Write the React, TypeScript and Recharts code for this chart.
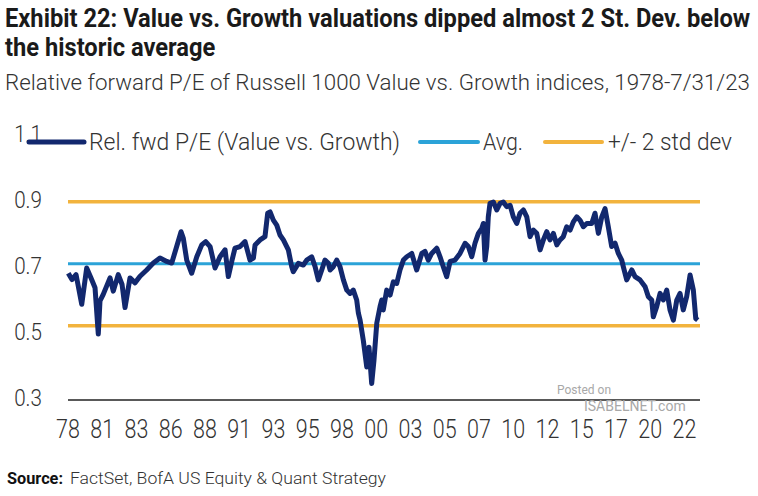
import React from 'react';
import { LineChart, Line, XAxis, YAxis, ReferenceLine } from 'recharts';

// decimal year of each reading
const dates = [
  1978.94, 1979.2, 1979.49, 1979.89, 1980.24, 1980.59, 1980.83, 1981.06, 1981.18, 1981.41,
  1981.89, 1982.12, 1982.47, 1982.74, 1982.95, 1983.3, 1983.66, 1984.01, 1984.48, 1984.95,
  1985.42, 1985.9, 1986.25, 1986.6, 1986.91, 1987.07, 1987.31, 1987.66, 1988.02, 1988.37,
  1988.65, 1988.96, 1989.31, 1989.66, 1990.02, 1990.25, 1990.49, 1990.72, 1991.08, 1991.43,
  1991.78, 1992.02, 1992.14, 1992.49, 1992.84, 1993.03, 1993.2, 1993.43, 1993.67, 1993.9,
  1994.14, 1994.49, 1994.73, 1994.84, 1995.2, 1995.55, 1995.79, 1996.14, 1996.38, 1996.61,
  1996.85, 1997.08, 1997.32, 1997.44, 1997.67, 1997.91, 1998.14, 1998.38, 1998.62, 1998.85,
  1999.08, 1999.32, 1999.44, 1999.56, 1999.79, 2000.03, 2000.19, 2000.38, 2000.54, 2000.74,
  2000.97, 2001.09, 2001.2, 2001.44, 2001.68, 2001.91, 2002.15, 2002.38, 2002.62, 2002.86,
  2003.21, 2003.56, 2003.92, 2004.15, 2004.38, 2004.62, 2004.98, 2005.21, 2005.44, 2005.68,
  2005.92, 2006.27, 2006.62, 2006.98, 2007.21, 2007.45, 2007.68, 2007.92, 2008.16, 2008.27,
  2008.39, 2008.51, 2008.62, 2008.74, 2008.98, 2009.22, 2009.45, 2009.68, 2009.92, 2010.16,
  2010.39, 2010.63, 2010.86, 2011.1, 2011.34, 2011.57, 2011.8, 2012.04, 2012.28, 2012.51,
  2012.75, 2012.98, 2013.22, 2013.46, 2013.69, 2013.92, 2014.16, 2014.4, 2014.63, 2014.87,
  2015.1, 2015.34, 2015.58, 2015.93, 2016.16, 2016.4, 2016.64, 2016.87, 2017.1, 2017.34,
  2017.58, 2017.81, 2018.05, 2018.16, 2018.4, 2018.76, 2018.99, 2019.34, 2019.7, 2019.93,
  2020.17, 2020.28, 2020.52, 2020.76, 2020.99, 2021.23, 2021.46, 2021.7, 2021.94, 2022.17,
  2022.4, 2022.64, 2022.88, 2023.11, 2023.28, 2023.42,
];

// relative forward P/E, Russell 1000 Value vs. Growth
const relFwdPE = [
  0.684, 0.665, 0.68, 0.59, 0.7, 0.665, 0.64, 0.5, 0.6, 0.62,
  0.67, 0.63, 0.68, 0.65, 0.58, 0.67, 0.655, 0.675, 0.694, 0.715,
  0.73, 0.72, 0.715, 0.765, 0.81, 0.79, 0.724, 0.684, 0.734, 0.77,
  0.78, 0.765, 0.7, 0.734, 0.755, 0.674, 0.72, 0.76, 0.765, 0.78,
  0.724, 0.73, 0.77, 0.785, 0.795, 0.866, 0.87, 0.845, 0.83, 0.8,
  0.785, 0.755, 0.704, 0.689, 0.714, 0.709, 0.724, 0.734, 0.704, 0.664,
  0.694, 0.724, 0.714, 0.694, 0.704, 0.724, 0.704, 0.664, 0.633, 0.623,
  0.633, 0.603, 0.563, 0.542, 0.48, 0.4, 0.46, 0.35, 0.42, 0.533,
  0.583, 0.603, 0.573, 0.633, 0.618, 0.658, 0.653, 0.694, 0.724, 0.734,
  0.744, 0.694, 0.744, 0.75, 0.724, 0.744, 0.76, 0.734, 0.704, 0.674,
  0.72, 0.724, 0.744, 0.775, 0.765, 0.734, 0.775, 0.805, 0.82, 0.835,
  0.724, 0.765, 0.855, 0.896, 0.9, 0.876, 0.896, 0.9, 0.886, 0.89,
  0.855, 0.835, 0.866, 0.876, 0.855, 0.795, 0.815, 0.805, 0.755, 0.785,
  0.81, 0.785, 0.805, 0.77, 0.785, 0.795, 0.825, 0.815, 0.84, 0.855,
  0.845, 0.825, 0.835, 0.835, 0.866, 0.805, 0.855, 0.88, 0.825, 0.765,
  0.775, 0.744, 0.724, 0.704, 0.664, 0.694, 0.674, 0.664, 0.643, 0.613,
  0.603, 0.552, 0.583, 0.623, 0.603, 0.633, 0.573, 0.542, 0.603, 0.623,
  0.573, 0.613, 0.679, 0.633, 0.547, 0.542,
];

const AVG = 0.713;
const STD_DEV = 0.094;

const xTicks = [
  1978.92, 1981.34, 1983.76, 1986.18, 1988.6, 1991.02, 1993.44, 1995.86, 1998.28, 2000.7,
  2003.12, 2005.54, 2007.96, 2010.38, 2012.8, 2015.22, 2017.64, 2020.06, 2022.48,
];
const xTickLabels = ['78', '81', '83', '86', '88', '91', '93', '95', '98', '00', '03', '05', '07', '10', '12', '15', '17', '20', '22'];
const yTicks = [0.3, 0.5, 0.7, 0.9, 1.1];

const NAVY = '#12286e';
const BLUE = '#2ba3d8';
const ORANGE = '#f2b33d';
const FONT = 'Roboto, "Liberation Sans", sans-serif';

const chartData = dates.map((t, i) => ({ t, v: relFwdPE[i] }));

// condensed tick text: larger font squeezed horizontally
const XTick = ({ x, y, payload }: any) => (
  <text transform={`translate(${x},${y + 9}) scale(0.86,1)`} textAnchor="middle" dominantBaseline="middle"
    fontSize={25} fontFamily={FONT} fontWeight={300} fill="#333">
    {xTickLabels[xTicks.indexOf(payload.value)] ?? ''}
  </text>
);

const YTick = ({ x, y, payload }: any) => (
  <text transform={`translate(${x},${y}) scale(0.86,1)`} textAnchor="end" dominantBaseline="middle"
    fontSize={24} fontFamily={FONT} fontWeight={300} fill="#333">
    {payload.value.toFixed(1)}
  </text>
);

export default function App() {
  return (
    <div style={{ position: 'absolute', left: 0, top: 0, width: 758, height: 496, background: '#fff', overflow: 'hidden' }}>
      <LineChart width={758} height={496} data={chartData} margin={{ top: 136, right: 58, bottom: 66, left: 18 }}>
        <XAxis
          dataKey="t"
          type="number"
          domain={[1978.92, 2023.58]}
          ticks={xTicks}
          interval={0}
          axisLine={{ stroke: '#222', strokeWidth: 1.5 }}
          tickLine={false}
          tickMargin={16}
          tick={<XTick />}
        />
        <YAxis
          type="number"
          domain={[0.3, 1.1]}
          ticks={yTicks}
          width={50}
          axisLine={false}
          tickLine={false}
          tickMargin={20}
          tick={<YTick />}
        />
        <ReferenceLine y={AVG + 2 * STD_DEV} stroke={ORANGE} strokeWidth={3.5} />
        <ReferenceLine y={AVG - 2 * STD_DEV} stroke={ORANGE} strokeWidth={3.5} />
        <ReferenceLine y={AVG} stroke={BLUE} strokeWidth={3} />
        <Line type="linear" dataKey="v" stroke={NAVY} strokeWidth={5} strokeLinejoin="round" dot={false} isAnimationActive={false} />
      </LineChart>

      <svg width={758} height={496} style={{ position: 'absolute', left: 0, top: 0 }} fontFamily={FONT}>
        <text transform="translate(5,27) scale(0.948,1)" fontSize={25} fontWeight={700} fill="#1a1a1a">
          Exhibit 22: Value vs. Growth valuations dipped almost 2 St. Dev. below
        </text>
        <text transform="translate(5,56) scale(0.948,1)" fontSize={25} fontWeight={700} fill="#1a1a1a">
          the historic average
        </text>
        <text x={5} y={90} fontSize={22} fill="#333" fontWeight={300} textLength={745} lengthAdjust="spacingAndGlyphs">
          Relative forward P/E of Russell 1000 Value vs. Growth indices, 1978-7/31/23
        </text>

        {/* legend */}
        <line x1={29} y1={142} x2={84} y2={142} stroke={NAVY} strokeWidth={5} strokeLinecap="round" />
        <text x={89} y={150} fontSize={23} fill="#333" fontWeight={300} textLength={311} lengthAdjust="spacingAndGlyphs">
          Rel. fwd P/E (Value vs. Growth)
        </text>
        <line x1={420} y1={142} x2={478} y2={142} stroke={BLUE} strokeWidth={4} strokeLinecap="round" />
        <text x={483} y={150} fontSize={23} fill="#333" fontWeight={300} textLength={40} lengthAdjust="spacingAndGlyphs">
          Avg.
        </text>
        <line x1={545} y1={142} x2={602} y2={142} stroke={ORANGE} strokeWidth={4} strokeLinecap="round" />
        <text x={608} y={150} fontSize={23} fill="#333" fontWeight={300} textLength={124} lengthAdjust="spacingAndGlyphs">
          +/- 2 std dev
        </text>

        {/* watermark */}
        <text x={557} y={394} fontSize={12} fill="#a8a8a8">Posted on</text>
        <text x={584} y={411} fontSize={14} fill="#a8a8a8">ISABELNET.com</text>

        <text x={7} y={484} fontSize={17} fontWeight={700} fill="#111" textLength={56} lengthAdjust="spacingAndGlyphs">Source:</text>
        <text x={70} y={484} fontSize={17} fill="#333" fontWeight={300} textLength={316} lengthAdjust="spacingAndGlyphs">
          FactSet, BofA US Equity &amp; Quant Strategy
        </text>
      </svg>
    </div>
  );
}
